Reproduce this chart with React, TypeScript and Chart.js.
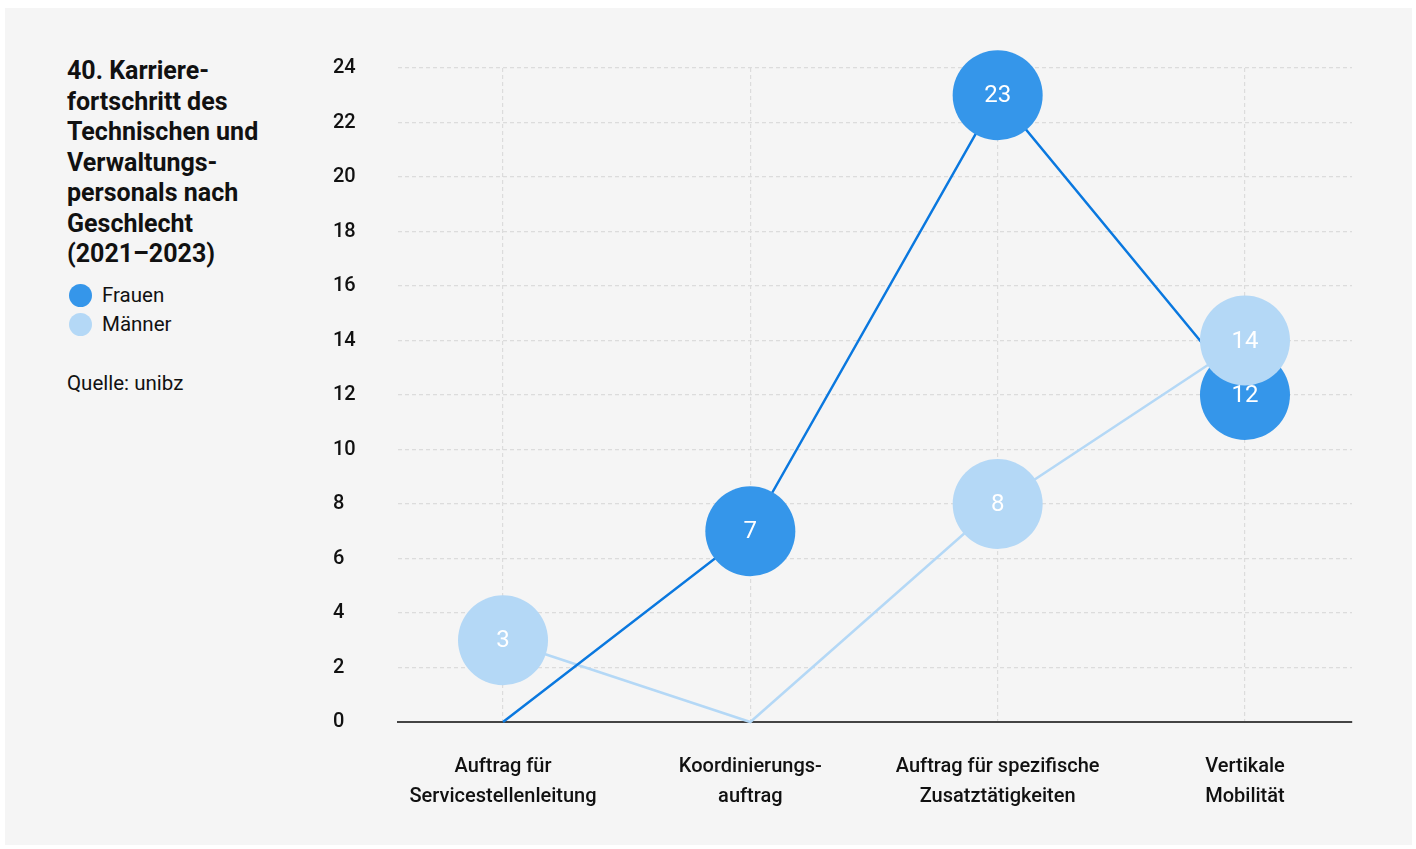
import React, { useEffect, useRef } from "react";
import { Chart, registerables } from "chart.js";

Chart.register(...registerables);

const categories: string[][] = [
  ["Auftrag für", "Servicestellenleitung"],
  ["Koordinierungs-", "auftrag"],
  ["Auftrag für spezifische", "Zusatztätigkeiten"],
  ["Vertikale", "Mobilität"],
];
const frauen = [0, 7, 23, 12];
const maenner = [3, 0, 8, 14];
const yTicks = [0, 2, 4, 6, 8, 10, 12, 14, 16, 18, 20, 22, 24];
const titleLines = [
  "40. Karriere-",
  "fortschritt des",
  "Technischen und",
  "Verwaltungs-",
  "personals nach",
  "Geschlecht",
  "(2021–2023)",
];

const FONT = "Roboto, 'Noto Sans', sans-serif";
const C_FRAUEN_LINE = "#0a78df";
const C_FRAUEN_PT = "#3596ea";
const C_MAENNER = "#b4d8f6";

const labelPlugin = {
  id: "pointLabels",
  afterDatasetDraw(chart: any, args: any) {
    const ds = chart.data.datasets[args.index];
    if (!ds.isPoints) return;
    const meta = chart.getDatasetMeta(args.index);
    const ctx = chart.ctx;
    ctx.save();
    ctx.fillStyle = "#ffffff";
    ctx.font = `400 24px ${FONT}`;
    ctx.textAlign = "center";
    ctx.textBaseline = "middle";
    meta.data.forEach((el: any, i: number) => {
      const v = ds.data[i].y;
      if (v === 0) return;
      ctx.fillText(String(v), el.x, el.y + 1);
    });
    ctx.restore();
  },
};

export default function App() {
  const ref = useRef<HTMLCanvasElement>(null);
  useEffect(() => {
    if (!ref.current) return;
    Chart.defaults.font.family = FONT;
    const toPts = (arr: number[]) => arr.map((v, i) => ({ x: i, y: v }));
    const radius = (ctx: any) => (ctx.raw && ctx.raw.y === 0 ? 0 : 45);
    const chart = new Chart(ref.current, {
      type: "line",
      data: {
        datasets: [
          {
            label: "Männer Punkte",
            data: toPts(maenner),
            showLine: false,
            pointRadius: radius,
            pointHoverRadius: radius,
            pointBackgroundColor: C_MAENNER,
            pointBorderWidth: 0,
            order: 0,
            clip: false,
            isPoints: true,
          } as any,
          {
            label: "Frauen Punkte",
            data: toPts(frauen),
            showLine: false,
            pointRadius: radius,
            pointHoverRadius: radius,
            pointBackgroundColor: C_FRAUEN_PT,
            pointBorderWidth: 0,
            order: 1,
            clip: false,
            isPoints: true,
          } as any,
          {
            label: "Frauen",
            data: toPts(frauen),
            borderColor: C_FRAUEN_LINE,
            borderWidth: 2.5,
            pointRadius: 0,
            tension: 0,
            order: 2,
            clip: false,
          } as any,
          {
            label: "Männer",
            data: toPts(maenner),
            borderColor: C_MAENNER,
            borderWidth: 2.5,
            pointRadius: 0,
            tension: 0,
            order: 3,
            clip: false,
          } as any,
        ],
      },
      options: {
        responsive: false,
        animation: false,
        events: [],
        layout: { autoPadding: false, padding: { left: 13, right: 48, top: 28, bottom: 0 } },
        plugins: { legend: { display: false }, tooltip: { enabled: false } },
        scales: {
          x: {
            type: "linear",
            min: -0.4246,
            max: 3.4327,
            afterBuildTicks: (scale: any) => {
              scale.ticks = categories.map((_, i) => ({ value: i }));
            },
            afterFit: (scale: any) => {
              scale.height = 108;
            },
            ticks: {
              autoSkip: false,
              maxRotation: 0,
              padding: 30,
              color: "#111111",
              font: { size: 20, weight: "500", lineHeight: "30px" } as any,
              callback: (v: any) => categories[v as number],
            },
            grid: {
              color: "#dcdcdc",
              lineWidth: 1.2,
              drawTicks: false,
            },
            border: {
              display: true,
              color: "#444444",
              width: 2,
              dash: [4, 3],
            },
          } as any,
          y: {
            min: 0,
            max: 24,
            afterBuildTicks: (scale: any) => {
              scale.ticks = yTicks.map((v) => ({ value: v }));
            },
            afterFit: (scale: any) => {
              scale.width = 65;
            },
            ticks: {
              crossAlign: "far",
              color: "#111111",
              font: { size: 20, weight: "500" } as any,
              padding: 0,
            },
            grid: {
              color: (ctx: any) => (ctx.tick && ctx.tick.value === 0 ? "rgba(0,0,0,0)" : "#dcdcdc"),
              lineWidth: 1.2,
              drawTicks: false,
            },
            border: { display: false, dash: [4, 3] },
          } as any,
        },
      },
      plugins: [labelPlugin],
    });
    return () => chart.destroy();
  }, []);

  return (
    <div
      style={{
        position: "absolute",
        left: 5,
        top: 8,
        width: 1407,
        height: 837,
        background: "#f5f5f5",
        fontFamily: FONT,
        color: "#111111",
      }}
    >
      <div
        style={{
          position: "absolute",
          left: 62,
          top: 48,
          fontSize: 25,
          fontWeight: 700,
          lineHeight: "30.5px",
          whiteSpace: "nowrap",
        }}
      >
        {titleLines.map((l, i) => (
          <div key={i}>{l}</div>
        ))}
      </div>
      {[
        { label: "Frauen", color: C_FRAUEN_PT, top: 273 },
        { label: "Männer", color: C_MAENNER, top: 302 },
      ].map((it) => (
        <div
          key={it.label}
          style={{
            position: "absolute",
            left: 64,
            top: it.top,
            height: 28,
            display: "flex",
            alignItems: "center",
            fontSize: 20.5,
          }}
        >
          <span
            style={{
              display: "inline-block",
              width: 23,
              height: 23,
              borderRadius: "50%",
              background: it.color,
              marginRight: 10,
            }}
          />
          {it.label}
        </div>
      ))}
      <div style={{ position: "absolute", left: 62, top: 361, fontSize: 20.5, lineHeight: "28px" }}>
        Quelle: unibz
      </div>
      <canvas
        ref={ref}
        width={1080}
        height={790}
        style={{ position: "absolute", left: 315, top: 32, width: 1080, height: 790 }}
      />
    </div>
  );
}
